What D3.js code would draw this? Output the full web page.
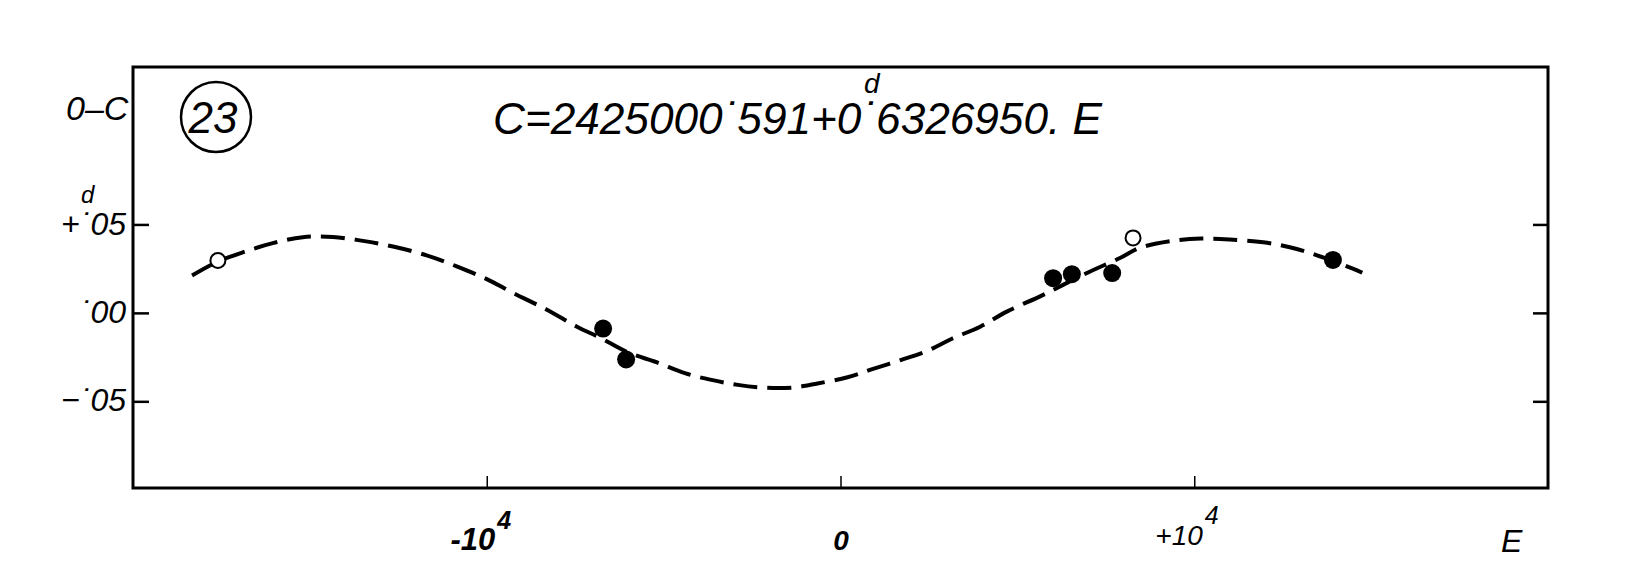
<!DOCTYPE html>
<meta charset="utf-8">
<head>
    <title>O-C diagram 23</title>
    <script type="text/javascript" src="https://d3js.org/d3.v7.min.js"></script>
    <style>
        body { margin: 0; background: #fff; }
        text { font-family: "Liberation Sans", "DejaVu Sans", sans-serif; font-style: italic; fill: #000; }
    </style>
</head>
<body>
    <div id="chart"></div>
    <script>
        // values (E in cycles, O-C in days)
        var curveE = [-18330, -17600, -16900, -16050, -15200, -14350, -13500, -12650, -11700, -10850,
                      -10000, -9250, -8300, -7450, -6800, -6000, -5200, -4400, -3650, -2900,
                      -2150, -1350, -650, 200, 900, 1700, 2450, 3150, 3950, 4700,
                      5700, 6950, 7900, 8450, 9400, 10200, 11000, 11950, 12700, 13450, 14500, 14750]
        var curveOC = [0.0211, 0.0290, 0.0342, 0.0394, 0.0428, 0.0429, 0.0407, 0.0375, 0.0325, 0.0263,
                       0.0191, 0.0112, 0.0018, -0.0078, -0.0140, -0.0224, -0.0279, -0.0341, -0.0379, -0.0407,
                       -0.0423, -0.0422, -0.0399, -0.0364, -0.0318, -0.0267, -0.0215, -0.0146, -0.0078, 0.0007,
                       0.0099, 0.0224, 0.0310, 0.0367, 0.0408, 0.0420, 0.0415, 0.0399, 0.0371, 0.0327, 0.0249, 0.0227]
        var openE = [-17600, 8270]
        var openOC = [0.0296, 0.0424]
        var filledE = [-6710, -6060, 6010, 6540, 7680, 13920]
        var filledOC = [-0.0089, -0.0263, 0.0196, 0.0219, 0.0225, 0.0299]
        var xTicks = [-10000, 0, 10000]
        var xTickLabels = ["-10", "0", "+10"]
        var xTickSup = ["4", "", "4"]
        var yTicks = [0.05, 0, -0.05]
        var yTickLabels = ["+\u02D905", "\u02D900", "\u2212\u02D905"]

        var width = 1650, height = 572
        var plotL = 133, plotR = 1548, plotT = 67, plotB = 488

        var svg = d3.select("#chart").append("svg")
          .attr("width", width)
          .attr("height", height)

        var x = d3.scaleLinear().domain([-20000, 20000]).range([plotL, plotR])
        var y = d3.scaleLinear().domain([-0.099, 0.139]).range([plotB, plotT])

        // frame
        svg.append("rect")
          .attr("x", plotL).attr("y", plotT)
          .attr("width", plotR - plotL).attr("height", plotB - plotT)
          .attr("fill", "none").attr("stroke", "#000").attr("stroke-width", 3)

        // left axis, ticks pointing inward
        var yAxis = svg.append("g")
          .attr("transform", "translate(" + plotL + ",0)")
          .call(d3.axisLeft(y).tickValues(yTicks).tickSizeInner(-16).tickSizeOuter(0).tickPadding(7)
            .tickFormat(function(d, i){ return yTickLabels[i] }))
        yAxis.select(".domain").remove()
        yAxis.selectAll("line").attr("stroke-width", 2.5)
        yAxis.selectAll("text")
          .attr("font-size", 32)
          .attr("font-family", "Liberation Sans, sans-serif")
          .attr("dy", "0.30em")

        // right axis, ticks only
        var yAxisR = svg.append("g")
          .attr("transform", "translate(" + plotR + ",0)")
          .call(d3.axisRight(y).tickValues(yTicks).tickSizeInner(-15).tickSizeOuter(0).tickFormat(""))
        yAxisR.select(".domain").remove()
        yAxisR.selectAll("line").attr("stroke-width", 2.5)

        // bottom axis
        var xAxis = svg.append("g")
          .attr("transform", "translate(0," + plotB + ")")
          .call(d3.axisBottom(x).tickValues(xTicks).tickSizeInner(-12).tickSizeOuter(0)
            .tickFormat(function(d, i){ return xTickLabels[i] }))
        xAxis.select(".domain").remove()
        xAxis.selectAll("line").attr("stroke-width", 1.5)
        xAxis.selectAll("text")
          .attr("font-size", function(d, i){ return i == 0 ? 31 : 28 })
          .attr("font-weight", function(d, i){ return i < 2 ? "bold" : "normal" })
          .attr("font-family", "Liberation Sans, sans-serif")
          .attr("y", function(d, i){ return i < 2 ? 62 : 57 }).attr("dy", 0)
          .attr("text-anchor", function(d, i){ return xTickSup[i] ? "end" : "middle" })
          .attr("dx", function(d, i){ return xTickSup[i] ? 24 : 0 })
          .each(function(d, i){
            if (xTickSup[i]) {
              d3.select(this).append("tspan")
                .attr("dy", -21).attr("dx", 2)
                .attr("font-size", 25)
                .text(xTickSup[i])
            }
          })

        // dashed fitted curve
        var line = d3.line()
          .x(function(d){ return x(d[0]) })
          .y(function(d){ return y(d[1]) })
          .curve(d3.curveCatmullRom)
        svg.append("path")
          .datum(d3.zip(curveE, curveOC))
          .attr("d", line)
          .attr("fill", "none")
          .attr("stroke", "#000")
          .attr("stroke-width", 4)
          .attr("stroke-dasharray", "24 10")

        svg.append("g").selectAll("circle")
          .data(d3.zip(filledE, filledOC))
          .enter().append("circle")
            .attr("cx", function(d){ return x(d[0]) })
            .attr("cy", function(d){ return y(d[1]) })
            .attr("r", 9)
            .attr("fill", "#000")

        svg.append("g").selectAll("circle")
          .data(d3.zip(openE, openOC))
          .enter().append("circle")
            .attr("cx", function(d){ return x(d[0]) })
            .attr("cy", function(d){ return y(d[1]) })
            .attr("r", 7.5)
            .attr("fill", "#fff")
            .attr("stroke", "#000")
            .attr("stroke-width", 2)

        // labels
        svg.append("text").attr("x", 66).attr("y", 120).attr("font-size", 34).text("0\u2013C")
        svg.append("text").attr("x", 81).attr("y", 203).attr("font-size", 24).text("d")
        svg.append("text").attr("x", 1501).attr("y", 552).attr("font-size", 32).text("E")

        svg.append("circle").attr("cx", 216).attr("cy", 117).attr("r", 35)
          .attr("fill", "none").attr("stroke", "#000").attr("stroke-width", 2.5)
        svg.append("text").attr("x", 213).attr("y", 133).attr("font-size", 44)
          .attr("text-anchor", "middle").attr("font-style", "normal").text("23")

        svg.append("text").attr("x", 493).attr("y", 134).attr("font-size", 44)
          .attr("textLength", 609).attr("lengthAdjust", "spacingAndGlyphs")
          .text("C=2425000\u02D9591+0\u02D96326950. E")
        svg.append("text").attr("x", 864).attr("y", 93).attr("font-size", 28).text("d")
    </script>
</body>
</html>
